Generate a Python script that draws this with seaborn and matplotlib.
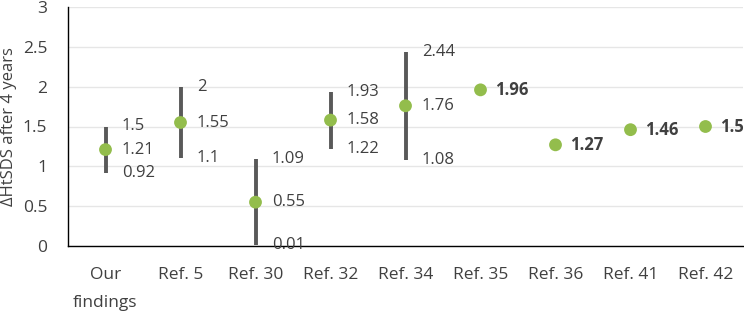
import pandas as pd
import seaborn as sns
import numpy as np
import matplotlib.pyplot as plt

categories = ["Our\nfindings", "Ref. 5", "Ref. 30", "Ref. 32", "Ref. 34",
              "Ref. 35", "Ref. 36", "Ref. 41", "Ref. 42"]
mean_vals = [1.21, 1.55, 0.55, 1.58, 1.76, 1.96, 1.27, 1.46, 1.5]
low_vals = [0.92, 1.1, 0.01, 1.22, 1.08, np.nan, np.nan, np.nan, np.nan]
high_vals = [1.5, 2, 1.09, 1.93, 2.44, np.nan, np.nan, np.nan, np.nan]
mean_labels = ["1.21", "1.55", "0.55", "1.58", "1.76", "1.96", "1.27", "1.46", "1.5"]
low_labels = ["0.92", "1.1", "0.01", "1.22", "1.08", "", "", "", ""]
high_labels = ["1.5", "2", "1.09", "1.93", "2.44", "", "", "", ""]

df = pd.DataFrame({"study": categories, "mean": mean_vals,
                   "low": low_vals, "high": high_vals})

sns.set_style("white")
plt.rcParams['font.family'] = ['Open Sans', 'DejaVu Sans']
txt = "#404040"

fig = plt.figure(figsize=(7.44, 3.15), dpi=100)
ax = fig.add_axes([68 / 744, 69 / 315, 675 / 744, 239 / 315])

# error bars (range) behind the points
has_range = df["low"].notna()
ax.vlines(np.arange(len(df))[has_range], df.loc[has_range, "low"],
          df.loc[has_range, "high"], color="#595959", lw=2.8, zorder=2)

sns.scatterplot(data=df, x="study", y="mean", ax=ax, s=85, color="#93BD4C",
                edgecolor="none", zorder=3, legend=False)

fs = 12
for i, row in df.iterrows():
    if has_range[i]:
        off = 0.22
        ax.text(i + off, row["high"], high_labels[i], va="center", ha="left",
                fontsize=fs, color=txt)
        ax.text(i + off, row["mean"], mean_labels[i], va="center", ha="left",
                fontsize=fs, color=txt)
        ax.text(i + off, row["low"], low_labels[i], va="center", ha="left",
                fontsize=fs, color=txt)
    else:
        off = 0.2
        ax.text(i + off, row["mean"], mean_labels[i], va="center", ha="left",
                fontsize=fs, color=txt, fontweight="bold")

ax.set_xlim(-0.5, 8.5)
ax.set_ylim(0, 3)
ax.set_yticks(np.arange(0, 3.01, 0.5))
ax.set_yticklabels(["0", "0.5", "1", "1.5", "2", "2.5", "3"])
ax.yaxis.grid(True, color="#E6E6E6", lw=1)
ax.set_axisbelow(True)
ax.set_xlabel("")
ax.set_ylabel("ΔHtSDS after 4 years", fontsize=12, color=txt, labelpad=4)

ax.tick_params(axis="x", length=0, pad=15, labelsize=12.5, labelcolor=txt)
ax.tick_params(axis="y", length=0, pad=15, labelsize=12.5, labelcolor=txt)
for lab in ax.get_xticklabels():
    lab.set_linespacing(2.0)
    lab.set_verticalalignment("top")

sns.despine(ax=ax, top=True, right=True)
ax.spines["left"].set_color("#000000")
ax.spines["bottom"].set_color("#000000")
ax.spines["left"].set_linewidth(1)
ax.spines["bottom"].set_linewidth(1)

fig.savefig("out.png", dpi=100)
